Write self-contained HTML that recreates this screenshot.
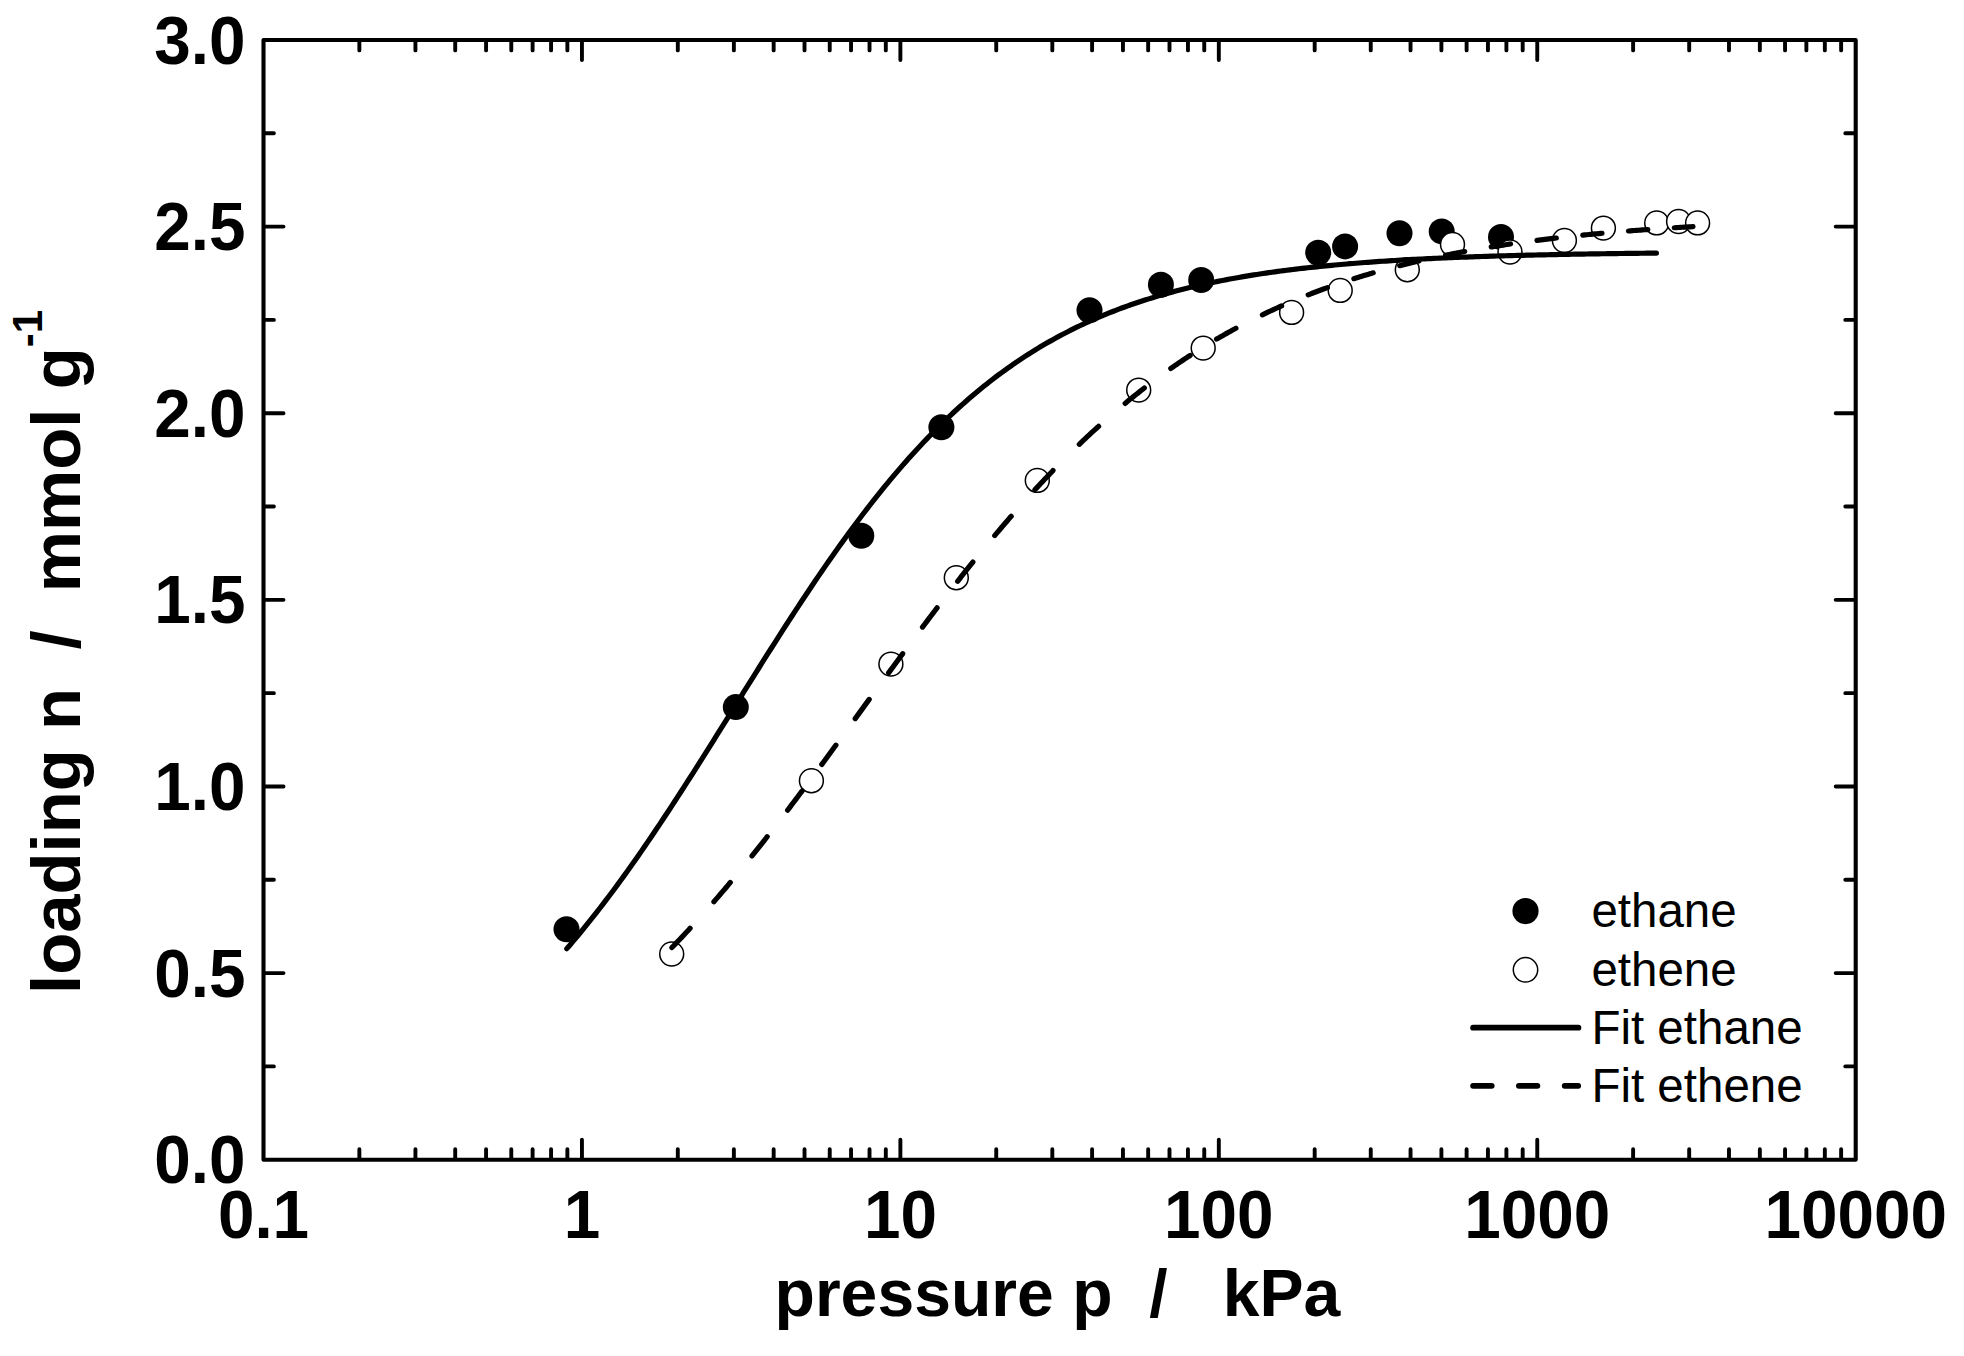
<!DOCTYPE html>
<html lang="en"><head><meta charset="utf-8"><title>Adsorption isotherms: loading vs pressure</title>
<style>html,body{margin:0;padding:0;background:#fff;}svg{display:block;}text{font-family:"Liberation Sans",sans-serif;fill:#000;white-space:pre;}.b{font-weight:bold;}</style></head><body>
<svg width="1964" height="1356" viewBox="0 0 1964 1356">
<rect width="1964" height="1356" fill="#fff"/>
<path d="M359.36 1158.70v-9.40M359.36 41.00v9.40M415.43 1158.70v-9.40M415.43 41.00v9.40M455.22 1158.70v-9.40M455.22 41.00v9.40M486.08 1158.70v-9.40M486.08 41.00v9.40M511.29 1158.70v-9.40M511.29 41.00v9.40M532.61 1158.70v-9.40M532.61 41.00v9.40M551.08 1158.70v-9.40M551.08 41.00v9.40M567.37 1158.70v-9.40M567.37 41.00v9.40M581.94 1158.70v-19.00M581.94 41.00v19.00M677.80 1158.70v-9.40M677.80 41.00v9.40M733.87 1158.70v-9.40M733.87 41.00v9.40M773.66 1158.70v-9.40M773.66 41.00v9.40M804.52 1158.70v-9.40M804.52 41.00v9.40M829.73 1158.70v-9.40M829.73 41.00v9.40M851.05 1158.70v-9.40M851.05 41.00v9.40M869.52 1158.70v-9.40M869.52 41.00v9.40M885.81 1158.70v-9.40M885.81 41.00v9.40M900.38 1158.70v-19.00M900.38 41.00v19.00M996.24 1158.70v-9.40M996.24 41.00v9.40M1052.31 1158.70v-9.40M1052.31 41.00v9.40M1092.10 1158.70v-9.40M1092.10 41.00v9.40M1122.96 1158.70v-9.40M1122.96 41.00v9.40M1148.17 1158.70v-9.40M1148.17 41.00v9.40M1169.49 1158.70v-9.40M1169.49 41.00v9.40M1187.96 1158.70v-9.40M1187.96 41.00v9.40M1204.25 1158.70v-9.40M1204.25 41.00v9.40M1218.82 1158.70v-19.00M1218.82 41.00v19.00M1314.68 1158.70v-9.40M1314.68 41.00v9.40M1370.75 1158.70v-9.40M1370.75 41.00v9.40M1410.54 1158.70v-9.40M1410.54 41.00v9.40M1441.40 1158.70v-9.40M1441.40 41.00v9.40M1466.61 1158.70v-9.40M1466.61 41.00v9.40M1487.93 1158.70v-9.40M1487.93 41.00v9.40M1506.40 1158.70v-9.40M1506.40 41.00v9.40M1522.69 1158.70v-9.40M1522.69 41.00v9.40M1537.26 1158.70v-19.00M1537.26 41.00v19.00M1633.12 1158.70v-9.40M1633.12 41.00v9.40M1689.19 1158.70v-9.40M1689.19 41.00v9.40M1728.98 1158.70v-9.40M1728.98 41.00v9.40M1759.84 1158.70v-9.40M1759.84 41.00v9.40M1785.05 1158.70v-9.40M1785.05 41.00v9.40M1806.37 1158.70v-9.40M1806.37 41.00v9.40M1824.84 1158.70v-9.40M1824.84 41.00v9.40M1841.13 1158.70v-9.40M1841.13 41.00v9.40M264.50 1066.39h9.40M1854.70 1066.39h-9.40M264.50 973.08h19.00M1854.70 973.08h-19.00M264.50 879.78h9.40M1854.70 879.78h-9.40M264.50 786.47h19.00M1854.70 786.47h-19.00M264.50 693.16h9.40M1854.70 693.16h-9.40M264.50 599.85h19.00M1854.70 599.85h-19.00M264.50 506.54h9.40M1854.70 506.54h-9.40M264.50 413.23h19.00M1854.70 413.23h-19.00M264.50 319.92h9.40M1854.70 319.92h-9.40M264.50 226.62h19.00M1854.70 226.62h-19.00M264.50 133.31h9.40M1854.70 133.31h-9.40" fill="none" stroke="#000" stroke-width="3.9" stroke-linecap="round"/>
<rect x="263.5" y="40.0" width="1592.20" height="1119.70" fill="none" stroke="#000" stroke-width="4.1" stroke-linejoin="round"/>
<text class="b" transform="translate(245.6 1183.30) scale(0.957 1)" font-size="68.6" text-anchor="end">0.0</text>
<text class="b" transform="translate(245.6 996.68) scale(0.957 1)" font-size="68.6" text-anchor="end">0.5</text>
<text class="b" transform="translate(245.6 810.07) scale(0.957 1)" font-size="68.6" text-anchor="end">1.0</text>
<text class="b" transform="translate(245.6 623.45) scale(0.957 1)" font-size="68.6" text-anchor="end">1.5</text>
<text class="b" transform="translate(245.6 436.83) scale(0.957 1)" font-size="68.6" text-anchor="end">2.0</text>
<text class="b" transform="translate(245.6 250.22) scale(0.957 1)" font-size="68.6" text-anchor="end">2.5</text>
<text class="b" transform="translate(245.6 63.60) scale(0.957 1)" font-size="68.6" text-anchor="end">3.0</text>
<text class="b" transform="translate(263.50 1237.6) scale(0.957 1)" font-size="68.6" text-anchor="middle">0.1</text>
<text class="b" transform="translate(581.94 1237.6) scale(0.957 1)" font-size="68.6" text-anchor="middle">1</text>
<text class="b" transform="translate(900.38 1237.6) scale(0.957 1)" font-size="68.6" text-anchor="middle">10</text>
<text class="b" transform="translate(1218.82 1237.6) scale(0.957 1)" font-size="68.6" text-anchor="middle">100</text>
<text class="b" transform="translate(1537.26 1237.6) scale(0.957 1)" font-size="68.6" text-anchor="middle">1000</text>
<text class="b" transform="translate(1855.70 1237.6) scale(0.957 1)" font-size="68.6" text-anchor="middle">10000</text>
<text class="b" xml:space="preserve" transform="translate(774.5 1315.6) scale(0.987 1)" font-size="67">pressure p  /   kPa</text>
<text class="b" xml:space="preserve" transform="translate(79.8 994) rotate(-90) scale(0.9984 1)" font-size="69">loading n  /  mmol g<tspan font-size="42" dy="-38">-1</tspan></text>
<g fill="#000"><circle cx="566.5" cy="929.3" r="13.0"/><circle cx="735.8" cy="707.1" r="13.0"/><circle cx="861.3" cy="535.7" r="13.0"/><circle cx="941.4" cy="427.3" r="13.0"/><circle cx="1089.5" cy="310.3" r="13.0"/><circle cx="1160.9" cy="284.8" r="13.0"/><circle cx="1201.2" cy="280.0" r="13.0"/><circle cx="1318.2" cy="252.8" r="13.0"/><circle cx="1345.1" cy="246.4" r="13.0"/><circle cx="1399.5" cy="233.2" r="13.0"/><circle cx="1441.7" cy="231.4" r="13.0"/><circle cx="1501.0" cy="237.0" r="13.0"/></g>
<g fill="#fff" stroke="#000" stroke-width="1.5"><circle cx="671.7" cy="954.0" r="11.95"/><circle cx="811.4" cy="780.7" r="11.95"/><circle cx="890.9" cy="664.1" r="11.95"/><circle cx="956.3" cy="577.7" r="11.95"/><circle cx="1037.3" cy="480.4" r="11.95"/><circle cx="1138.7" cy="390.1" r="11.95"/><circle cx="1203.2" cy="348.1" r="11.95"/><circle cx="1291.6" cy="312.4" r="11.95"/><circle cx="1340.2" cy="290.4" r="11.95"/><circle cx="1407.3" cy="269.7" r="11.95"/><circle cx="1452.5" cy="244.4" r="11.95"/><circle cx="1510.0" cy="252.0" r="11.95"/><circle cx="1564.4" cy="240.5" r="11.95"/><circle cx="1603.4" cy="228.1" r="11.95"/><circle cx="1656.7" cy="222.9" r="11.95"/><circle cx="1678.6" cy="221.5" r="11.95"/><circle cx="1697.6" cy="222.9" r="11.95"/></g>
<path d="M566.8 948.67 L569.8 945.19 L572.8 941.67 L575.8 938.11 L578.8 934.51 L581.8 930.88 L584.8 927.20 L587.8 923.49 L590.8 919.74 L593.8 915.95 L596.8 912.13 L599.8 908.27 L602.8 904.37 L605.8 900.44 L608.8 896.47 L611.8 892.47 L614.8 888.43 L617.8 884.36 L620.8 880.25 L623.8 876.11 L626.8 871.94 L629.8 867.74 L632.8 863.50 L635.8 859.23 L638.8 854.94 L641.8 850.61 L644.8 846.26 L647.8 841.87 L650.8 837.46 L653.8 833.03 L656.8 828.56 L659.8 824.08 L662.8 819.56 L665.8 815.03 L668.8 810.47 L671.8 805.89 L674.8 801.29 L677.8 796.67 L680.8 792.03 L683.8 787.37 L686.8 782.70 L689.8 778.01 L692.8 773.30 L695.8 768.58 L698.8 763.84 L701.8 759.10 L704.8 754.34 L707.8 749.57 L710.8 744.80 L713.8 740.01 L716.8 735.22 L719.8 730.42 L722.8 725.62 L725.8 720.82 L728.8 716.01 L731.8 711.20 L734.8 706.38 L737.8 701.57 L740.8 696.76 L743.8 691.96 L746.8 687.16 L749.8 682.36 L752.8 677.57 L755.8 672.78 L758.8 668.00 L761.8 663.23 L764.8 658.48 L767.8 653.73 L770.8 648.99 L773.8 644.27 L776.8 639.56 L779.8 634.87 L782.8 630.19 L785.8 625.53 L788.8 620.89 L791.8 616.27 L794.8 611.67 L797.8 607.08 L800.8 602.52 L803.8 597.98 L806.8 593.47 L809.8 588.98 L812.8 584.51 L815.8 580.07 L818.8 575.65 L821.8 571.26 L824.8 566.90 L827.8 562.57 L830.8 558.27 L833.8 554.00 L836.8 549.76 L839.8 545.55 L842.8 541.37 L845.8 537.22 L848.8 533.10 L851.8 529.02 L854.8 524.98 L857.8 520.96 L860.8 516.98 L863.8 513.04 L866.8 509.13 L869.8 505.26 L872.8 501.43 L875.8 497.63 L878.8 493.86 L881.8 490.14 L884.8 486.45 L887.8 482.80 L890.8 479.19 L893.8 475.61 L896.8 472.08 L899.8 468.58 L902.8 465.12 L905.8 461.70 L908.8 458.32 L911.8 454.97 L914.8 451.67 L917.8 448.41 L920.8 445.18 L923.8 441.99 L926.8 438.84 L929.8 435.73 L932.8 432.66 L935.8 429.63 L938.8 426.64 L941.8 423.69 L944.8 420.77 L947.8 417.89 L950.8 415.05 L953.8 412.25 L956.8 409.49 L959.8 406.77 L962.8 404.08 L965.8 401.43 L968.8 398.82 L971.8 396.24 L974.8 393.70 L977.8 391.20 L980.8 388.73 L983.8 386.30 L986.8 383.91 L989.8 381.55 L992.8 379.23 L995.8 376.94 L998.8 374.69 L1001.8 372.47 L1004.8 370.28 L1007.8 368.13 L1010.8 366.01 L1013.8 363.93 L1016.8 361.88 L1019.8 359.86 L1022.8 357.87 L1025.8 355.91 L1028.8 353.99 L1031.8 352.10 L1034.8 350.24 L1037.8 348.40 L1040.8 346.60 L1043.8 344.83 L1046.8 343.09 L1049.8 341.38 L1052.8 339.69 L1055.8 338.03 L1058.8 336.41 L1061.8 334.81 L1064.8 333.23 L1067.8 331.69 L1070.8 330.17 L1073.8 328.67 L1076.8 327.21 L1079.8 325.76 L1082.8 324.35 L1085.8 322.95 L1088.8 321.59 L1091.8 320.24 L1094.8 318.92 L1097.8 317.63 L1100.8 316.35 L1103.8 315.10 L1106.8 313.88 L1109.8 312.67 L1112.8 311.49 L1115.8 310.32 L1118.8 309.18 L1121.8 308.06 L1124.8 306.96 L1127.8 305.88 L1130.8 304.82 L1133.8 303.78 L1136.8 302.76 L1139.8 301.75 L1142.8 300.77 L1145.8 299.80 L1148.8 298.86 L1151.8 297.93 L1154.8 297.01 L1157.8 296.12 L1160.8 295.24 L1163.8 294.38 L1166.8 293.53 L1169.8 292.70 L1172.8 291.88 L1175.8 291.09 L1178.8 290.30 L1181.8 289.53 L1184.8 288.78 L1187.8 288.04 L1190.8 287.31 L1193.8 286.60 L1196.8 285.90 L1199.8 285.22 L1202.8 284.55 L1205.8 283.89 L1208.8 283.24 L1211.8 282.61 L1214.8 281.99 L1217.8 281.38 L1220.8 280.78 L1223.8 280.20 L1226.8 279.62 L1229.8 279.06 L1232.8 278.51 L1235.8 277.97 L1238.8 277.44 L1241.8 276.92 L1244.8 276.41 L1247.8 275.91 L1250.8 275.42 L1253.8 274.94 L1256.8 274.47 L1259.8 274.00 L1262.8 273.55 L1265.8 273.11 L1268.8 272.67 L1271.8 272.25 L1274.8 271.83 L1277.8 271.42 L1280.8 271.02 L1283.8 270.63 L1286.8 270.24 L1289.8 269.86 L1292.8 269.49 L1295.8 269.13 L1298.8 268.77 L1301.8 268.43 L1304.8 268.08 L1307.8 267.75 L1310.8 267.42 L1313.8 267.10 L1316.8 266.79 L1319.8 266.48 L1322.8 266.18 L1325.8 265.88 L1328.8 265.59 L1331.8 265.30 L1334.8 265.03 L1337.8 264.75 L1340.8 264.49 L1343.8 264.22 L1346.8 263.97 L1349.8 263.71 L1352.8 263.47 L1355.8 263.23 L1358.8 262.99 L1361.8 262.76 L1364.8 262.53 L1367.8 262.31 L1370.8 262.09 L1373.8 261.88 L1376.8 261.67 L1379.8 261.46 L1382.8 261.26 L1385.8 261.06 L1388.8 260.87 L1391.8 260.68 L1394.8 260.50 L1397.8 260.32 L1400.8 260.14 L1403.8 259.96 L1406.8 259.79 L1409.8 259.63 L1412.8 259.46 L1415.8 259.30 L1418.8 259.15 L1421.8 258.99 L1424.8 258.84 L1427.8 258.69 L1430.8 258.55 L1433.8 258.41 L1436.8 258.27 L1439.8 258.13 L1442.8 258.00 L1445.8 257.87 L1448.8 257.74 L1451.8 257.62 L1454.8 257.50 L1457.8 257.38 L1460.8 257.26 L1463.8 257.14 L1466.8 257.03 L1469.8 256.92 L1472.8 256.81 L1475.8 256.71 L1478.8 256.60 L1481.8 256.50 L1484.8 256.40 L1487.8 256.30 L1490.8 256.21 L1493.8 256.12 L1496.8 256.02 L1499.8 255.93 L1502.8 255.85 L1505.8 255.76 L1508.8 255.68 L1511.8 255.59 L1514.8 255.51 L1517.8 255.43 L1520.8 255.36 L1523.8 255.28 L1526.8 255.21 L1529.8 255.13 L1532.8 255.06 L1535.8 254.99 L1538.8 254.92 L1541.8 254.86 L1544.8 254.79 L1547.8 254.73 L1550.8 254.66 L1553.8 254.60 L1556.8 254.54 L1559.8 254.48 L1562.8 254.42 L1565.8 254.37 L1568.8 254.31 L1571.8 254.26 L1574.8 254.20 L1577.8 254.15 L1580.8 254.10 L1583.8 254.05 L1586.8 254.00 L1589.8 253.95 L1592.8 253.91 L1595.8 253.86 L1598.8 253.82 L1601.8 253.77 L1604.8 253.73 L1607.8 253.69 L1610.8 253.64 L1613.8 253.60 L1616.8 253.56 L1619.8 253.52 L1622.8 253.49 L1625.8 253.45 L1628.8 253.41 L1631.8 253.38 L1634.8 253.34 L1637.8 253.31 L1640.8 253.27 L1643.8 253.24 L1646.8 253.21 L1649.8 253.18 L1652.8 253.15 L1655.8 253.12 L1656.4 253.11" fill="none" stroke="#000" stroke-width="5.2" stroke-linecap="round" stroke-linejoin="round"/>
<path d="M671.9 947.52 L673.9 945.46 L675.9 943.39 L677.9 941.30 L679.9 939.21 L681.9 937.10 L683.9 934.98 L685.9 932.84 L687.9 930.70 L689.9 928.54 L690.1 928.27M713.9 901.72 L715.9 899.41 L717.9 897.09 L719.9 894.76 L721.9 892.42 L723.9 890.06 L725.9 887.70 L727.9 885.33 L729.9 882.94 L730.3 882.46M752.0 855.93 L754.0 853.43 L756.0 850.92 L758.0 848.40 L760.0 845.87 L762.0 843.34 L764.0 840.80 L766.0 838.24 L767.2 836.71M787.6 810.21 L789.6 807.57 L791.6 804.93 L793.6 802.28 L795.6 799.62 L797.6 796.96 L799.6 794.30 L801.6 791.63 L802.1 790.96M821.8 764.39 L823.8 761.67 L825.8 758.95 L827.8 756.22 L829.8 753.50 L831.8 750.77 L833.8 748.03 L835.8 745.30 L835.9 745.16M855.2 718.62 L857.2 715.87 L859.2 713.12 L861.2 710.37 L863.2 707.62 L865.2 704.87 L867.2 702.13 L869.2 699.38M888.6 672.88 L890.6 670.15 L892.6 667.42 L894.6 664.70 L896.6 661.98 L898.6 659.26 L900.6 656.55 L902.6 653.84 L902.7 653.64M922.5 627.12 L924.5 624.46 L926.5 621.81 L928.5 619.16 L930.5 616.52 L932.5 613.88 L934.5 611.26 L936.5 608.63 L937.1 607.85M957.6 581.31 L959.6 578.77 L961.6 576.23 L963.6 573.71 L965.6 571.19 L967.6 568.68 L969.6 566.18 L971.6 563.69 L972.9 562.07M994.7 535.55 L996.7 533.17 L998.7 530.81 L1000.7 528.45 L1002.7 526.10 L1004.7 523.76 L1006.7 521.44 L1008.7 519.12 L1010.7 516.81 L1011.2 516.29M1034.9 489.79 L1036.9 487.62 L1038.9 485.46 L1040.9 483.32 L1042.9 481.18 L1044.9 479.06 L1046.9 476.95 L1048.9 474.85 L1050.9 472.76 L1052.9 470.68 L1053.0 470.53M1079.3 444.28 L1081.3 442.37 L1083.3 440.46 L1085.3 438.57 L1087.3 436.69 L1089.3 434.83 L1091.3 432.97 L1093.3 431.13 L1095.3 429.29 L1097.3 427.47 L1098.6 426.34M1125.1 403.40 L1127.1 401.75 L1129.1 400.11 L1131.1 398.48 L1133.1 396.87 L1135.1 395.26 L1137.1 393.67 L1139.1 392.09 L1141.1 390.52 L1143.1 388.96 L1144.3 387.99M1170.8 368.47 L1172.8 367.07 L1174.8 365.69 L1176.8 364.31 L1178.8 362.95 L1180.8 361.60 L1182.8 360.25 L1184.8 358.92 L1186.8 357.60 L1188.8 356.29 L1190.1 355.47M1216.6 339.10 L1218.6 337.93 L1220.6 336.78 L1222.6 335.63 L1224.6 334.50 L1226.6 333.37 L1228.6 332.26 L1230.6 331.15 L1232.6 330.05 L1234.6 328.96 L1235.9 328.29M1262.4 314.78 L1264.4 313.83 L1266.4 312.88 L1268.4 311.94 L1270.4 311.00 L1272.4 310.08 L1274.4 309.16 L1276.4 308.25 L1278.4 307.35 L1280.4 306.46 L1281.6 305.91M1308.2 294.85 L1310.2 294.07 L1312.2 293.30 L1314.2 292.53 L1316.2 291.77 L1318.2 291.02 L1320.2 290.27 L1322.2 289.54 L1324.2 288.80 L1326.2 288.08 L1327.4 287.63M1353.9 278.69 L1355.9 278.06 L1357.9 277.44 L1359.9 276.82 L1361.9 276.20 L1363.9 275.60 L1365.9 275.00 L1367.9 274.40 L1369.9 273.81 L1371.9 273.23 L1373.2 272.86M1399.7 265.67 L1401.7 265.17 L1403.7 264.67 L1405.7 264.17 L1407.7 263.68 L1409.7 263.19 L1411.7 262.71 L1413.7 262.23 L1415.7 261.76 L1417.7 261.29 L1418.9 261.00M1445.5 255.24 L1447.5 254.84 L1449.5 254.44 L1451.5 254.04 L1453.5 253.65 L1455.5 253.26 L1457.5 252.87 L1459.5 252.49 L1461.5 252.12 L1463.5 251.74 L1464.7 251.51M1491.2 246.94 L1493.2 246.61 L1495.2 246.30 L1497.2 245.98 L1499.2 245.67 L1501.2 245.36 L1503.2 245.06 L1505.2 244.75 L1507.2 244.45 L1509.2 244.16 L1510.5 243.97M1537.0 240.34 L1539.0 240.08 L1541.0 239.83 L1543.0 239.58 L1545.0 239.34 L1547.0 239.09 L1549.0 238.85 L1551.0 238.61 L1553.0 238.37 L1555.0 238.14 L1556.3 237.99M1582.8 235.12 L1584.8 234.92 L1586.8 234.72 L1588.8 234.53 L1590.8 234.33 L1592.8 234.14 L1594.8 233.95 L1596.8 233.76 L1598.8 233.57 L1600.8 233.39 L1602.0 233.27M1628.5 231.00 L1630.5 230.85 L1632.5 230.69 L1634.5 230.53 L1636.5 230.38 L1638.5 230.23 L1640.5 230.08 L1642.5 229.93 L1644.5 229.78 L1646.5 229.64 L1647.8 229.54M1674.3 227.76 L1676.3 227.63 L1678.3 227.51 L1680.3 227.39 L1682.3 227.27 L1684.3 227.15 L1686.3 227.03 L1688.3 226.91 L1690.3 226.79 L1692.3 226.68 L1693.0 226.64" fill="none" stroke="#000" stroke-width="5.2" stroke-linecap="round" stroke-linejoin="round"/>
<circle cx="1525.5" cy="911.1" r="13.1" fill="#000"/>
<circle cx="1525.5" cy="969.8" r="12.2" fill="#fff" stroke="#000" stroke-width="1.5"/>
<path d="M1473.10 1027.7H1578.40" stroke="#000" stroke-width="5.8" stroke-linecap="round"/>
<path d="M1473.10 1085.8H1491.70M1518.90 1085.8H1537.40M1564.70 1085.8H1578.20" stroke="#000" stroke-width="5.8" stroke-linecap="round"/>
<text x="1591.4" y="927.4" font-size="47.5">ethane</text>
<text x="1591.4" y="986.1" font-size="47.5">ethene</text>
<text x="1591.4" y="1044.1" font-size="47.5">Fit ethane</text>
<text x="1591.4" y="1102.2" font-size="47.5">Fit ethene</text>
</svg></body></html>
